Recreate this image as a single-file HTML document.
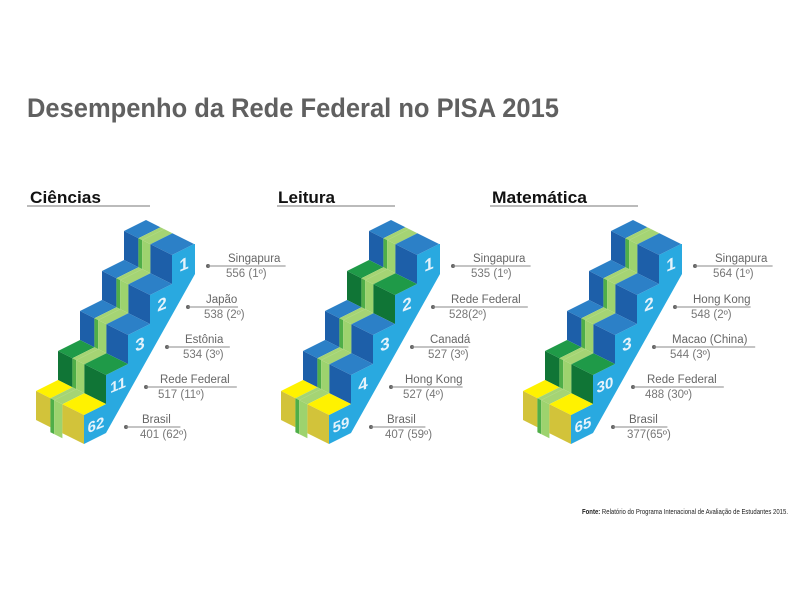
<!DOCTYPE html>
<html><head><meta charset="utf-8"><style>
html,body{margin:0;padding:0;background:#fff;width:800px;height:600px;overflow:hidden}
svg{display:block}
text{font-family:"Liberation Sans",sans-serif}
</style></head><body>
<svg id="s" width="800" height="600" xmlns="http://www.w3.org/2000/svg">
<text x="27" y="117" font-size="27" font-weight="bold" fill="#606060" textLength="532" lengthAdjust="spacingAndGlyphs">Desempenho da Rede Federal no PISA 2015</text>
<text x="30" y="203" font-size="17" font-weight="bold" fill="#111" textLength="71" lengthAdjust="spacingAndGlyphs">Ciências</text>
<rect x="27" y="205" width="123" height="2" fill="#bbb"/>
<text x="278" y="203" font-size="17" font-weight="bold" fill="#111" textLength="57" lengthAdjust="spacingAndGlyphs">Leitura</text>
<rect x="277" y="205" width="118" height="2" fill="#bbb"/>
<text x="492" y="203" font-size="17" font-weight="bold" fill="#111" textLength="95" lengthAdjust="spacingAndGlyphs">Matemática</text>
<rect x="490" y="205" width="148" height="2" fill="#bbb"/>
<text x="582" y="514" font-size="7.5" fill="#222" textLength="206" lengthAdjust="spacingAndGlyphs"><tspan font-weight="bold">Fonte:</tspan> Relatório do Programa Intenacional de Avaliação de Estudantes 2015.</text>
<g id="g"></g>
</svg>
<script>
var g=document.getElementById('g'),out='',txt='';
var W=[48,24],D=[-22,11],H=29;
function P(a,f){return '<polygon points="'+a.map(function(p){return p[0].toFixed(1)+','+p[1].toFixed(1)}).join(' ')+'" fill="'+f+'"/>';}
function add(p,q,k){return [p[0]+q[0]*k,p[1]+q[1]*k];}
var C={b:['#2c80c7','#1d5fa9'],g:['#1f9a48','#107536'],y:['#fff200','#d2c33a']};
var sets=[
 {dx:0,cols:'bbbgy',nums:['1','2','3','11','62'],lab:[['Singapura','556 (1º)'],['Japão','538 (2º)'],['Estônia','534 (3º)'],['Rede Federal','517 (11º)'],['Brasil','401 (62º)']]},
 {dx:245,cols:'bgbby',nums:['1','2','3','4','59'],lab:[['Singapura','535 (1º)'],['Rede Federal','528(2º)'],['Canadá','527 (3º)'],['Hong Kong','527 (4º)'],['Brasil','407 (59º)']]},
 {dx:487,cols:'bbbgy',nums:['1','2','3','30','65'],lab:[['Singapura','564 (1º)'],['Hong Kong','548 (2º)'],['Macao (China)','544 (3º)'],['Rede Federal','488 (30º)'],['Brasil','377(65º)']]}
];
var dots=[[208,266],[188,307],[167,347],[146,387],[126,427]];
sets.forEach(function(st){
 var P0=[146+st.dx,220];
 var side=[],i,Q,last;
 for(i=0;i<5;i++){Q=[P0[0]+i*(D[0]),P0[1]+i*(D[1]+H)];var a=add(Q,W,1);side.push(a);var b=add(a,D,1);side.push(b);side.push([b[0],b[1]+H]);last=a;}
 side.push([last[0],last[1]+H]);
 side.push([P0[0]+W[0]+1,P0[1]+W[1]+30]);
 side.splice(0,0,[P0[0]+W[0]+1,P0[1]+W[1]]);
 out+=P(side,'#29a9e0');
 for(i=0;i<5;i++){
  Q=[P0[0]+i*D[0],P0[1]+i*(D[1]+H)];
  var c=C[st.cols[i]];
  var segs=[[0,0.3,c[0],c[1]],[0.3,0.38,'#a5d474','#4fae48'],[0.38,0.55,'#a5d474','#9dd36e'],[0.55,1,c[0],c[1]]];
  segs.forEach(function(s){
   var a=add(Q,W,s[0]),b=add(Q,W,s[1]);
   var ad=add(a,D,1),bd=add(b,D,1);
   out+=P([a,b,bd,ad],s[2]);
   var ext=(i==4&&s[0]>=0.3&&s[1]<=0.55)?5:0;
   out+=P([ad,bd,[bd[0],bd[1]+H+ext],[ad[0],ad[1]+H+ext]],s[3]);
  });
  var m=add(add(Q,W,1),D,0.5);
  var two=st.nums[i].length>1;
  var fs=two?15:17;
  txt+='<text transform="translate('+(m[0]+1).toFixed(1)+','+(m[1]+H/2+6).toFixed(1)+') skewY(-22)" font-size="'+fs+'" font-weight="bold" fill="#e6f3fb" text-anchor="middle">'+st.nums[i]+'</text>';
  var d=dots[i],x=d[0]+st.dx,y=d[1];
  var nx=x+(i==0?20:i==1?18:i==2?18:i==3?14:16);
  var nw=st.lab[i][0].length*6.4;
  txt+='<circle cx="'+x+'" cy="'+y+'" r="2" fill="#666"/>';
  txt+='<rect x="'+x+'" y="'+(y-0.5)+'" width="'+(nx-x+nw)+'" height="1" fill="#888"/>';
  txt+='<text x="'+nx+'" y="'+(y-4)+'" font-size="11.5" fill="#666">'+st.lab[i][0]+'</text>';
  txt+='<text x="'+(nx-2)+'" y="'+(y+11)+'" font-size="11.5" fill="#777">'+st.lab[i][1]+'</text>';
 }
});
g.innerHTML=out+txt;
</script>
</body></html>
